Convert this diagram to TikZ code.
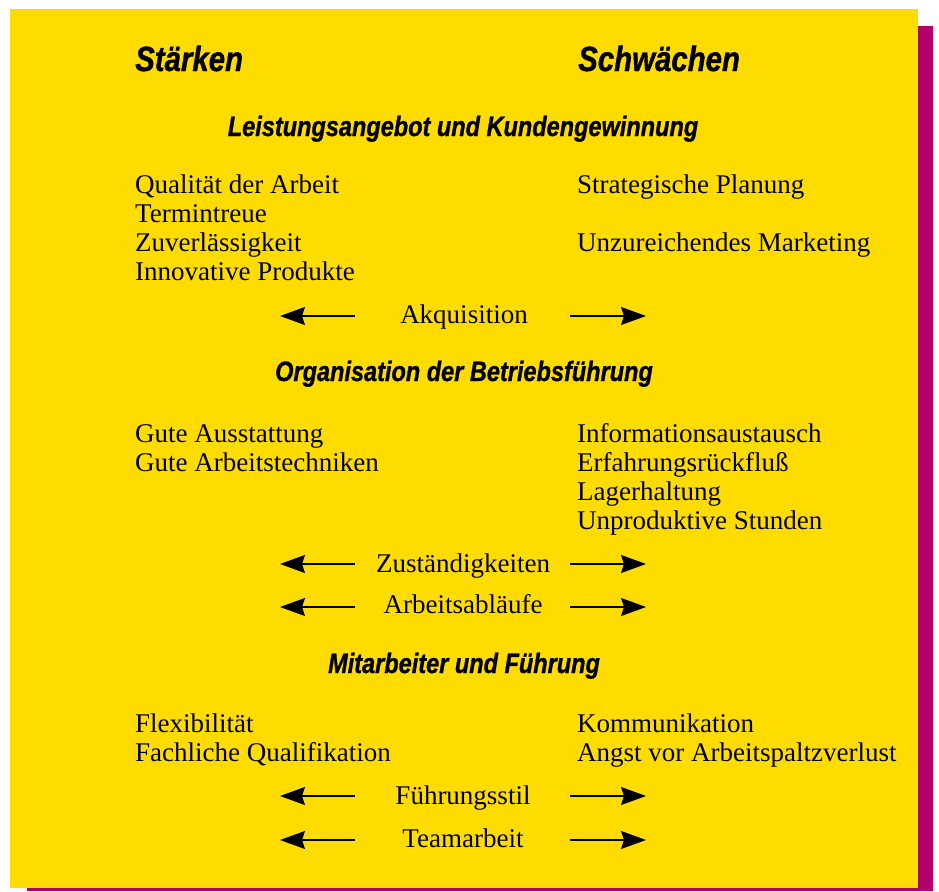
\documentclass[tikz,border=0pt]{standalone}
\usepackage{fontspec}
\setmainfont{Liberation Serif}
\newfontfamily\hdfont[FakeStretch=0.84,FakeBold=1.0]{Liberation Sans}
\usetikzlibrary{arrows.meta}
\definecolor{bgyellow}{RGB}{255,220,0}
\definecolor{shadowmag}{RGB}{176,0,106}
\tikzset{
  body/.style={inner sep=0pt, anchor=base west, font=\fontsize{27}{29}\selectfont},
  mid/.style={inner sep=0pt, anchor=base, font=\fontsize{27}{29}\selectfont},
  bighead/.style={inner sep=0pt, anchor=base west, font=\hdfont\bfseries\itshape\fontsize{35}{40}\selectfont},
  subhead/.style={inner sep=0pt, anchor=base, font=\hdfont\bfseries\itshape\fontsize{28}{32}\selectfont},
  arr/.style={line width=1.3pt, -{Stealth[length=25pt,width=18pt,inset=3pt]}}
}
\begin{document}
\begin{tikzpicture}[x=1pt,y=-1pt]
\useasboundingbox (0,0) rectangle (939,891);
\fill[shadowmag] (27,26) rectangle (933,891);
\fill[bgyellow] (10,9) rectangle (918,888);

\node[bighead] (st) at (135,71) {Stärken};
\node[bighead] (sw) at (578,71) {Schwächen};

\node[subhead] (h1) at (463,136) {Leistungsangebot und Kundengewinnung};
\node[body] (l1) at (135,193) {Qualität der Arbeit};
\node[body] (l2) at (135,222) {Termintreue};
\node[body] (l3) at (135,251) {Zuverlässigkeit};
\node[body] (l4) at (135,280) {Innovative Produkte};
\node[body] (r1) at (577,193) {Strategische Planung};
\node[body] (r2) at (577,251) {Unzureichendes Marketing};

\node[mid] (m1) at (464,323) {Akquisition};
\coordinate (m1lt) at (355,316); \coordinate (m1lh) at (280,316);
\coordinate (m1rt) at (570,316); \coordinate (m1rh) at (646,316);
\draw[arr] (m1lt) -- (m1lh);
\draw[arr] (m1rt) -- (m1rh);

\node[subhead] (h2) at (464,381) {Organisation der Betriebsführung};
\node[body] (l5) at (135,442) {Gute Ausstattung};
\node[body] (l6) at (135,471) {Gute Arbeitstechniken};
\node[body] (r3) at (577,442) {Informationsaustausch};
\node[body] (r4) at (577,471) {Erfahrungsrückfluß};
\node[body] (r5) at (577,500) {Lagerhaltung};
\node[body] (r6) at (577,529) {Unproduktive Stunden};

\node[mid] (m2) at (463,572) {Zuständigkeiten};
\coordinate (m2lt) at (355,564); \coordinate (m2lh) at (280,564);
\coordinate (m2rt) at (570,564); \coordinate (m2rh) at (646,564);
\draw[arr] (m2lt) -- (m2lh);
\draw[arr] (m2rt) -- (m2rh);

\node[mid] (m3) at (463,613) {Arbeitsabläufe};
\coordinate (m3lt) at (355,607); \coordinate (m3lh) at (280,607);
\coordinate (m3rt) at (570,607); \coordinate (m3rh) at (646,607);
\draw[arr] (m3lt) -- (m3lh);
\draw[arr] (m3rt) -- (m3rh);

\node[subhead] (h3) at (464,673) {Mitarbeiter und Führung};
\node[body] (l7) at (135,732) {Flexibilität};
\node[body] (l8) at (135,761) {Fachliche Qualifikation};
\node[body] (r7) at (577,732) {Kommunikation};
\node[body] (r8) at (577,761) {Angst vor Arbeitspaltzverlust};

\node[mid] (m4) at (463,804) {Führungsstil};
\coordinate (m4lt) at (355,796); \coordinate (m4lh) at (280,796);
\coordinate (m4rt) at (570,796); \coordinate (m4rh) at (646,796);
\draw[arr] (m4lt) -- (m4lh);
\draw[arr] (m4rt) -- (m4rh);

\node[mid] (m5) at (463,847) {Teamarbeit};
\coordinate (m5lt) at (355,840); \coordinate (m5lh) at (280,840);
\coordinate (m5rt) at (570,840); \coordinate (m5rh) at (646,840);
\draw[arr] (m5lt) -- (m5lh);
\draw[arr] (m5rt) -- (m5rh);
\end{tikzpicture}
\end{document}
